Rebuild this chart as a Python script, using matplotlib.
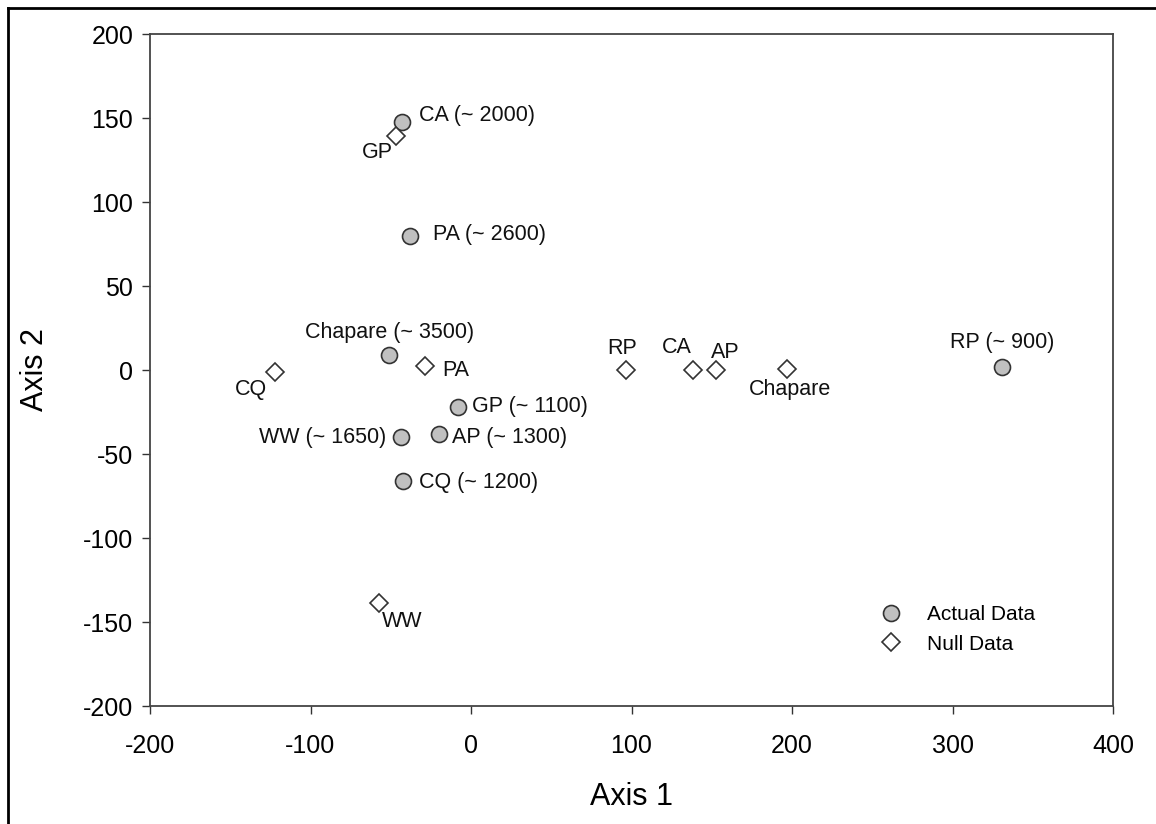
import matplotlib
matplotlib.use("Agg")
import matplotlib.pyplot as plt
from matplotlib.lines import Line2D

plt.rcParams['font.family'] = ['Liberation Sans', 'DejaVu Sans']
plt.rcParams['axes.unicode_minus'] = False

# Actual data (circles)
actual_labels = ["CA (~ 2000)", "PA (~ 2600)", "Chapare (~ 3500)", "GP (~ 1100)",
                 "WW (~ 1650)", "AP (~ 1300)", "CQ (~ 1200)", "RP (~ 900)"]
actual_x = [-43, -38, -51, -8, -43.6, -20, -42.4, 331]
actual_y = [147.6, 79.8, 8.9, -22, -39.9, -38, -66, 1.8]

# Null data (diamonds)
null_labels = ["GP", "CQ", "PA", "RP", "CA", "AP", "Chapare", "WW"]
null_x = [-46.7, -122, -28.7, 96.6, 138.3, 152.6, 197, -57.3]
null_y = [139, -1.2, 2.4, 0.0, 0.0, 0.0, 0.6, -138.7]

x_ticks = [-200, -100, 0, 100, 200, 300, 400]
y_ticks = [-200, -150, -100, -50, 0, 50, 100, 150, 200]

# label offsets in pixels (dx, dy, ha)
actual_off = [(17, 7, 'left'), (23, 1, 'left'), (0, 23, 'center'), (14, 0, 'left'),
              (-15, 0, 'right'), (13, -4, 'left'), (16, -2, 'left'), (0, 24, 'center')]
null_off = [(-3, -16, 'right'), (-8, -17, 'right'), (17, -5, 'left'), (-4, 22, 'center'),
            (-16, 23, 'center'), (9, 18, 'center'), (3, -21, 'center'), (3, -18, 'left')]

fig = plt.figure(figsize=(11.56, 8.24), dpi=100)
ax = fig.add_axes([150/1156, (824-706)/824, (1113-150)/1156, (706-34)/824])

edge = '#333333'
ax.plot(actual_x, actual_y, linestyle='none', marker='o', markersize=11.5,
        markerfacecolor='#c0c0c0', markeredgecolor=edge, markeredgewidth=1.2, zorder=3)
ax.plot(null_x, null_y, linestyle='none', marker='D', markersize=9.5,
        markerfacecolor='white', markeredgecolor=edge, markeredgewidth=1.2, zorder=3)

px2pt = 0.72
lab_fs = 15.5
for lab, x, y, (dx, dy, ha) in zip(actual_labels, actual_x, actual_y, actual_off):
    ax.annotate(lab, (x, y), xytext=(dx*px2pt, dy*px2pt), textcoords='offset points',
                ha=ha, va='center', fontsize=lab_fs, color='#111111')
for lab, x, y, (dx, dy, ha) in zip(null_labels, null_x, null_y, null_off):
    ax.annotate(lab, (x, y), xytext=(dx*px2pt, dy*px2pt), textcoords='offset points',
                ha=ha, va='center', fontsize=lab_fs, color='#111111')

ax.set_xlim(-200, 400)
ax.set_ylim(-200, 200)
ax.set_xticks(x_ticks)
ax.set_yticks(y_ticks)
ax.tick_params(direction='out', length=6, width=1, color='#333333', labelsize=18)
ax.tick_params(axis='y', pad=6)
ax.tick_params(axis='x', pad=14)
for s in ax.spines.values():
    s.set_color('#444444')
    s.set_linewidth(1.3)
ax.set_xlabel("Axis 1", fontsize=22)
ax.set_ylabel("Axis 2", fontsize=22)
ax.xaxis.label.set_va('center')
ax.yaxis.label.set_va('center')
ax.xaxis.set_label_coords(0.5, (27 - 118) / 672)
ax.yaxis.set_label_coords((35 - 150) / 963, 0.5)

handles = [Line2D([], [], linestyle='none', marker='o', markersize=11.5,
                  markerfacecolor='#c0c0c0', markeredgecolor=edge, markeredgewidth=1.2),
           Line2D([], [], linestyle='none', marker='D', markersize=9.5,
                  markerfacecolor='white', markeredgecolor=edge, markeredgewidth=1.2)]
ax.legend(handles, ["Actual Data", "Null Data"], frameon=False, fontsize=15,
          loc='upper left', bbox_to_anchor=(0.739, 0.1625), handletextpad=0.76,
          labelspacing=0.5, borderaxespad=0)

# outer frame (top and left)
fig.add_artist(Line2D([8/1156, 1.0], [1-8/824, 1-8/824], color='black', lw=2, transform=fig.transFigure))
fig.add_artist(Line2D([8/1156, 8/1156], [0.0, 1-8/824], color='black', lw=2, transform=fig.transFigure))

fig.savefig("out.png", dpi=100, facecolor='white')
